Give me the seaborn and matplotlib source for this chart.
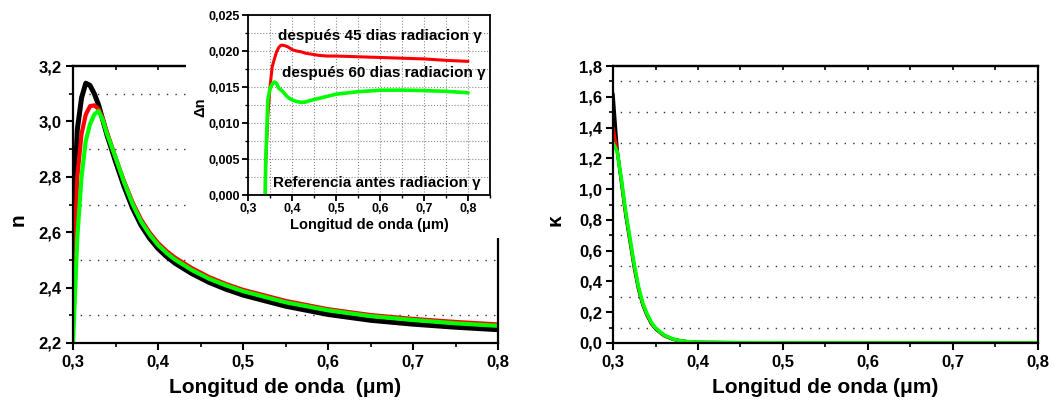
import numpy as np
import pandas as pd
import matplotlib
matplotlib.use("Agg")
import matplotlib.pyplot as plt
import seaborn as sns
from matplotlib.patches import Rectangle
from matplotlib.ticker import MultipleLocator, FuncFormatter

# ---------------- data ----------------
wl = [0.300, 0.305, 0.310, 0.315, 0.320, 0.325, 0.330, 0.335, 0.340, 0.350,
      0.360, 0.370, 0.380, 0.390, 0.400, 0.410, 0.420, 0.440, 0.460, 0.480,
      0.500, 0.550, 0.600, 0.650, 0.700, 0.750, 0.800]
n_ref = [2.62, 2.97, 3.085, 3.138, 3.130, 3.100, 3.060, 3.005, 2.950, 2.855,
         2.765, 2.687, 2.625, 2.578, 2.541, 2.512, 2.488, 2.450, 2.419, 2.394,
         2.373, 2.333, 2.303, 2.282, 2.268, 2.257, 2.248]
n_45 = [2.40, 2.80, 2.955, 3.025, 3.055, 3.058, 3.045, 3.010, 2.960, 2.870,
        2.784, 2.708, 2.646, 2.599, 2.561, 2.532, 2.508, 2.470, 2.438, 2.413,
        2.392, 2.352, 2.322, 2.301, 2.287, 2.276, 2.267]
n_60 = [2.20, 2.58, 2.800, 2.930, 2.990, 3.025, 3.038, 3.005, 2.955, 2.870,
        2.781, 2.702, 2.639, 2.592, 2.554, 2.525, 2.501, 2.463, 2.432, 2.408,
        2.387, 2.347, 2.318, 2.297, 2.283, 2.271, 2.262]

wl_k = [0.300, 0.305, 0.310, 0.315, 0.320, 0.325, 0.330, 0.335, 0.340, 0.345,
        0.350, 0.360, 0.370, 0.380, 0.390, 0.400, 0.450, 0.500, 0.600, 0.700, 0.800]
k_ref = [1.62, 1.25, 1.04, 0.83, 0.66, 0.49, 0.350, 0.248, 0.180, 0.127,
         0.092, 0.048, 0.025, 0.013, 0.007, 0.004, 0.002, 0.001, 0.0005, 0.0002, 0.0]
k_45 = [1.405, 1.245, 1.05, 0.84, 0.67, 0.50, 0.357, 0.254, 0.185, 0.131,
        0.095, 0.050, 0.026, 0.014, 0.008, 0.005, 0.002, 0.001, 0.0005, 0.0002, 0.0]
k_60 = [1.30, 1.24, 1.06, 0.85, 0.68, 0.51, 0.365, 0.260, 0.190, 0.135,
        0.098, 0.052, 0.027, 0.014, 0.008, 0.005, 0.002, 0.001, 0.0005, 0.0002, 0.0]

wl_dn = [0.330, 0.340, 0.345, 0.350, 0.355, 0.360, 0.365, 0.370, 0.375, 0.380,
         0.390, 0.400, 0.410, 0.420, 0.430, 0.440, 0.460, 0.480, 0.500, 0.550,
         0.600, 0.650, 0.700, 0.750, 0.800]
dn_45 = [-0.05, 0.004, 0.011, 0.0150, 0.0178, 0.0189, 0.0199, 0.0205, 0.0208, 0.0208,
         0.0206, 0.0202, 0.0200, 0.0199, 0.0197, 0.0196, 0.0194, 0.0193, 0.0193, 0.0192,
         0.0191, 0.0190, 0.0189, 0.0187, 0.01856]
dn_60 = [-0.05, 0.004, 0.0132, 0.0148, 0.0154, 0.0157, 0.0155, 0.0148, 0.0146, 0.0143,
         0.0136, 0.0132, 0.0130, 0.01287, 0.0129, 0.0131, 0.0134, 0.0137, 0.0140, 0.01435,
         0.01455, 0.01457, 0.0145, 0.0144, 0.0142]
dn_ref = [0.0] * len(wl_dn)

labels = ["Referencia antes radiacion \u03b3",
          "despu\u00e9s 45 dias radiacion \u03b3",
          "despu\u00e9s 60 dias radiacion \u03b3"]
colors = ["#000000", "#ff0000", "#00ff00"]

# ---------------- style ----------------
sns.set_theme(style="white")
plt.rcParams['font.family'] = ['Liberation Sans', 'DejaVu Sans']
plt.rcParams['font.weight'] = 'bold'
plt.rcParams['axes.labelweight'] = 'bold'
plt.rcParams['axes.edgecolor'] = 'black'
plt.rcParams['axes.labelcolor'] = 'black'
plt.rcParams['text.color'] = 'black'
plt.rcParams['xtick.color'] = 'black'
plt.rcParams['ytick.color'] = 'black'
plt.rcParams['xtick.labelcolor'] = 'black'
plt.rcParams['ytick.labelcolor'] = 'black'

def comma(fmt):
    return FuncFormatter(lambda v, p: (fmt % v).replace('.', ','))

fig = plt.figure(figsize=(10.54, 4.03), dpi=100)
ax1 = fig.add_axes([0.0693, 0.1489, 0.4032, 0.6873], zorder=0)
ax2 = fig.add_axes([0.5816, 0.1489, 0.4032, 0.6873], zorder=0)

df_n = pd.DataFrame({"wl": wl * 3, "val": n_ref + n_45 + n_60,
                     "serie": [labels[0]] * len(wl) + [labels[1]] * len(wl) + [labels[2]] * len(wl)})
df_k = pd.DataFrame({"wl": wl_k * 3, "val": k_ref + k_45 + k_60,
                     "serie": [labels[0]] * len(wl_k) + [labels[1]] * len(wl_k) + [labels[2]] * len(wl_k)})

lw_main = [3.6, 3.0, 3.0]
for lab, c, lw in zip(labels, colors, lw_main):
    sns.lineplot(data=df_n[df_n.serie == lab], x="wl", y="val", color=c, lw=lw,
                 ax=ax1, estimator=None, legend=False)
lw_k = [2.4, 2.2, 2.6]
for lab, c, lw in zip(labels, colors, lw_k):
    sns.lineplot(data=df_k[df_k.serie == lab], x="wl", y="val", color=c, lw=lw,
                 ax=ax2, estimator=None, legend=False)

for ax, ylim, ymaj in [(ax1, (2.2, 3.2), 0.2), (ax2, (0.0, 1.8), 0.2)]:
    ax.set_xlim(0.3, 0.8)
    ax.set_ylim(*ylim)
    ax.xaxis.set_major_locator(MultipleLocator(0.1))
    ax.xaxis.set_minor_locator(MultipleLocator(0.05))
    ax.yaxis.set_major_locator(MultipleLocator(ymaj))
    ax.yaxis.set_minor_locator(MultipleLocator(0.1))
    ax.xaxis.set_major_formatter(comma('%.1f'))
    ax.yaxis.set_major_formatter(comma('%.1f'))
    ax.tick_params(axis='both', which='major', direction='out', length=5, width=1.5,
                   labelsize=12, pad=3, bottom=True, left=True)
    ax.tick_params(axis='both', which='minor', direction='out', length=3, width=1.2,
                   bottom=True, left=True)
    for lab in ax.get_xticklabels() + ax.get_yticklabels():
        lab.set_fontweight('bold')
    for s in ax.spines.values():
        s.set_linewidth(1.6)
        s.set_color('black')
    ax.grid(False)
    ax.grid(axis='y', which='minor', linestyle=(1, (1, 5.2)), color='#333333', lw=1.0)
    sec = ax.secondary_xaxis('top')
    sec.xaxis.set_major_locator(MultipleLocator(0.05))
    sec.tick_params(direction='in', length=3, width=1.2, labeltop=False)
    sec.spines['top'].set_linewidth(1.6)

ax1.set_xlabel("Longitud de onda  (\u03bcm)", fontsize=15, fontweight='bold')
ax2.set_xlabel("Longitud de onda (\u03bcm)", fontsize=15, fontweight='bold')
ax1.set_ylabel("n", fontsize=15, fontweight='bold')
ax2.set_ylabel("\u03ba", fontsize=15, fontweight='bold')
for ax in (ax1, ax2):
    ax.xaxis.set_label_coords(0.5, -0.159)
    ax.xaxis.label.set_va('center')
    ax.yaxis.label.set_va('center')
ax1.yaxis.set_label_coords(-0.129, 0.444)
ax2.yaxis.set_label_coords(-0.136, 0.444)

# white backdrop behind the inset
fig.add_artist(Rectangle((186 / 1054, 1 - 238 / 403), (501 - 186) / 1054, 238 / 403,
                         transform=fig.transFigure, facecolor='white',
                         edgecolor='none', zorder=1))

# ---------------- inset ----------------
axi = fig.add_axes([248 / 1054, 1 - 195 / 403, 242 / 1054, 180 / 403], zorder=2)
axi.set_facecolor('white')
df_dn = pd.DataFrame({"wl": wl_dn * 3, "val": dn_ref + dn_45 + dn_60,
                      "serie": [labels[0]] * len(wl_dn) + [labels[1]] * len(wl_dn) + [labels[2]] * len(wl_dn)})
for lab, c, lw in zip(labels, colors, [2.0, 2.2, 2.6]):
    sns.lineplot(data=df_dn[df_dn.serie == lab], x="wl", y="val", color=c, lw=lw,
                 ax=axi, estimator=None, legend=False)
axi.set_xlim(0.3, 0.85)
axi.set_ylim(0.0, 0.025)
axi.xaxis.set_major_locator(MultipleLocator(0.1))
axi.xaxis.set_minor_locator(MultipleLocator(0.05))
axi.yaxis.set_major_locator(MultipleLocator(0.005))
axi.yaxis.set_minor_locator(MultipleLocator(0.0025))
axi.xaxis.set_major_formatter(comma('%.1f'))
axi.yaxis.set_major_formatter(comma('%.3f'))
axi.tick_params(axis='both', which='major', direction='out', length=4, width=1.3,
                labelsize=9, pad=2, bottom=True, left=True)
axi.tick_params(axis='both', which='minor', direction='out', length=2, width=1.0,
                bottom=True, left=True)
for lab in axi.get_xticklabels() + axi.get_yticklabels():
    lab.set_fontweight('bold')
for s in axi.spines.values():
    s.set_linewidth(1.3)
    s.set_color('black')
axi.grid(False)
axi.grid(which='both', linestyle=':', color='#8a8a8a', lw=0.8)
axi.set_axisbelow(True)
axi.set_xlabel("Longitud de onda (\u03bcm)", fontsize=10.5, fontweight='bold')
axi.set_ylabel("\u0394n", fontsize=10.5, fontweight='bold')
axi.xaxis.set_label_coords(0.5, -0.167)
axi.xaxis.label.set_va('center')
axi.yaxis.set_label_coords(-0.198, 0.489)
axi.yaxis.label.set_va('center')

axi.text(0.124, 0.883, labels[1], transform=axi.transAxes, fontsize=11,
         fontweight='bold', va='center', ha='left')
axi.text(0.140, 0.678, labels[2], transform=axi.transAxes, fontsize=11,
         fontweight='bold', va='center', ha='left')
axi.text(0.103, 0.067, labels[0], transform=axi.transAxes, fontsize=11,
         fontweight='bold', va='center', ha='left')

fig.savefig("out.png", dpi=100)
